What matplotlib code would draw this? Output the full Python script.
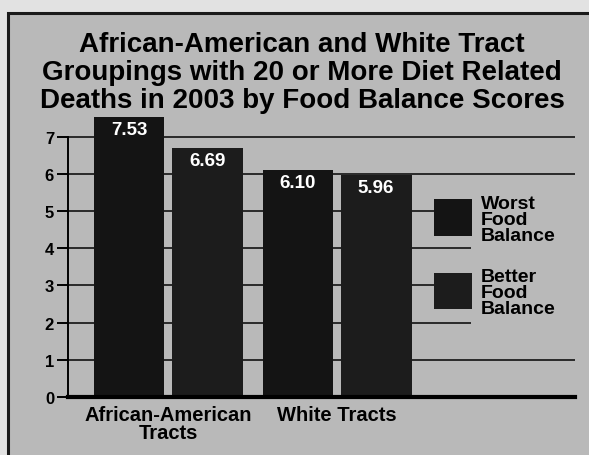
import matplotlib.pyplot as plt
from matplotlib.patches import Rectangle

plt.rcParams['font.family'] = ['Liberation Sans Narrow', 'Liberation Sans', 'DejaVu Sans']
plt.rcParams['font.weight'] = 'bold'

groups = ['African-American\nTracts', 'White Tracts']
series = ['Worst\nFood\nBalance', 'Better\nFood\nBalance']
worst = [7.53, 6.10]
better = [6.69, 5.96]
yticks = [0, 1, 2, 3, 4, 5, 6, 7]

title = ('African-American and White Tract\n'
         'Groupings with 20 or More Diet Related\n'
         'Deaths in 2003 by Food Balance Scores')

bg_out = '#e2e2e2'
bg_in = '#b9b9b9'
bar_colors = ['#141414', '#1c1c1c']

fig = plt.figure(figsize=(5.89, 4.56), dpi=100, facecolor=bg_out)
# framed panel, open at the bottom and right (cut off in the scan)
fig.patches.append(Rectangle((8 / 589, -0.05), 1.0, 1.05 - 14 / 456, transform=fig.transFigure,
                             facecolor=bg_in, edgecolor='#1a1a1a', linewidth=2.2, zorder=-5))

ax = fig.add_axes([68 / 589, 58 / 456, 507 / 589, 282.7 / 456])
ax.set_zorder(2)
ax.set_facecolor('none')

w = 0.42
off = 0.231
xs = range(len(groups))
for vals, sign, col in [(worst, -1, bar_colors[0]), (better, 1, bar_colors[1])]:
    pos = [x + sign * off for x in xs]
    bars = ax.bar(pos, vals, width=w, color=col, zorder=3)
    for b, v in zip(bars, vals):
        ax.annotate(f'{v:.2f}', (b.get_x() + b.get_width() / 2, v), xytext=(0, -3),
                    textcoords='offset points', ha='center', va='top',
                    color='white', fontsize=13.5, fontweight='bold', zorder=4)

ax.set_xlim(-0.592, 2.408)
ax.set_ylim(0, 7.6)
ax.set_yticks(yticks)
ax.set_yticklabels([str(t) for t in yticks], fontsize=12, fontweight='bold')
ax.tick_params(axis='y', length=8, width=1.4, direction='out', pad=2)
ax.set_xticks(list(xs))
ax.set_xticklabels(groups, fontsize=14.5, fontweight='bold', linespacing=0.9)
ax.tick_params(axis='x', length=0, pad=6)

ax.grid(axis='y', color='#111111', linewidth=1.2, zorder=1)
ax.set_axisbelow(True)
for s in ['top', 'right']:
    ax.spines[s].set_visible(False)
ax.spines['left'].set_bounds(0, 7)
ax.spines['left'].set_linewidth(1.4)
ax.spines['bottom'].set_linewidth(3)
ax.spines['bottom'].set_zorder(5)

# legend drawn by hand
ax.add_patch(Rectangle((0.795, 0.25), 0.21, 0.5, transform=ax.transAxes,
                       facecolor=bg_in, edgecolor='none', zorder=2))
for i, (lab, col) in enumerate(zip(series, bar_colors)):
    y0 = 0.57 - i * 0.26
    ax.add_patch(Rectangle((0.721, y0), 0.075, 0.13, transform=ax.transAxes,
                           facecolor=col, edgecolor='none', zorder=3))
    ax.text(0.815, y0 + 0.145, lab, transform=ax.transAxes, ha='left', va='top',
            fontsize=14, fontweight='bold', linespacing=0.92, zorder=4)

fig.text(0.513, 0.929, title, ha='center', va='top', fontsize=20,
         fontweight='bold', linespacing=1.1)

fig.savefig('out.png', dpi=100, facecolor=fig.get_facecolor())
